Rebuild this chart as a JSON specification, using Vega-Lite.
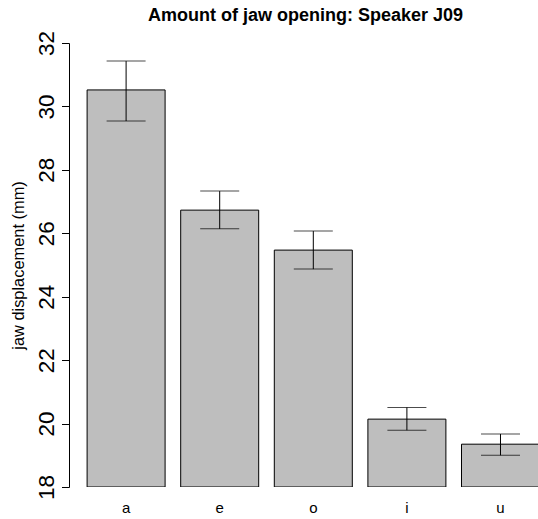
{
  "$schema": "https://vega.github.io/schema/vega-lite/v6.json",
  "autosize": {"type": "none"},
  "width": 469,
  "height": 444,
  "padding": {"left": 69, "top": 43, "right": 0, "bottom": 32},
  "background": "white",
  "config": {
    "view": {"stroke": null},
    "font": "Liberation Sans",
    "axis": {"grid": false, "domainColor": "black", "tickColor": "black", "labelColor": "black", "titleColor": "black", "labelFont": "Liberation Sans", "titleFont": "Liberation Sans"}
  },
  "title": {
    "text": "Amount of jaw opening: Speaker J09",
    "font": "Liberation Sans",
    "fontSize": 18,
    "fontWeight": "bold",
    "color": "black",
    "anchor": "middle",
    "dx": 2,
    "offset": 5
  },
  "data": {
    "values": [
      {"vowel": "a", "mean": 30.52, "lo": 29.54, "hi": 31.43},
      {"vowel": "e", "mean": 26.73, "lo": 26.14, "hi": 27.33},
      {"vowel": "o", "mean": 25.47, "lo": 24.87, "hi": 26.07},
      {"vowel": "i", "mean": 20.14, "lo": 19.79, "hi": 20.51},
      {"vowel": "u", "mean": 19.35, "lo": 19.0, "hi": 19.67}
    ]
  },
  "encoding": {
    "x": {
      "field": "vowel",
      "type": "nominal",
      "sort": null,
      "scale": {"range": [0, 488.6], "paddingInner": 0.1667, "paddingOuter": 0.1934},
      "axis": {"title": null, "domain": false, "ticks": false, "labelAngle": 0, "labelFontSize": 15, "labelBaseline": "alphabetic", "labelPadding": 25}
    }
  },
  "layer": [
    {
      "mark": {"type": "bar", "fill": "#bebebe", "stroke": "black", "strokeWidth": 1, "clip": true},
      "encoding": {
        "y": {
          "field": "mean",
          "type": "quantitative",
          "scale": {"domain": [18, 32], "nice": false, "zero": false},
          "axis": {
            "title": "jaw displacement (mm)",
            "titleFontSize": 16.4,
            "titleFontWeight": "normal",
            "titleAngle": -90,
            "titleAlign": "center",
            "titleBaseline": "alphabetic",
            "titleX": -46,
            "titleY": 222,
            "values": [18, 20, 22, 24, 26, 28, 30, 32],
            "tickSize": 7.5,
            "labelFontSize": 22.5,
            "labelAngle": -90,
            "labelAlign": "center",
            "labelBaseline": "alphabetic",
            "labelPadding": 8.5
          }
        },
        "y2": {"datum": 18}
      }
    },
    {
      "mark": {"type": "rule", "color": "black", "strokeWidth": 1},
      "encoding": {
        "y": {"field": "lo", "type": "quantitative"},
        "y2": {"field": "hi"}
      }
    },
    {
      "mark": {"type": "tick", "color": "black", "thickness": 1, "size": 39, "orient": "horizontal"},
      "encoding": {"y": {"field": "lo", "type": "quantitative"}}
    },
    {
      "mark": {"type": "tick", "color": "black", "thickness": 1, "size": 39, "orient": "horizontal"},
      "encoding": {"y": {"field": "hi", "type": "quantitative"}}
    }
  ]
}
